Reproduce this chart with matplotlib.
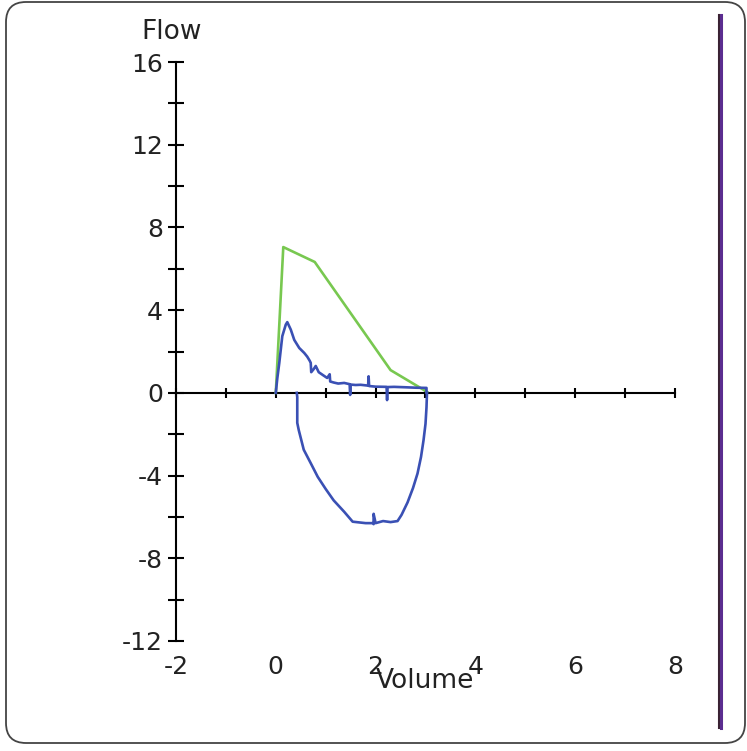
import numpy as np
import matplotlib
matplotlib.use('Agg')
import matplotlib.pyplot as plt
from matplotlib.patches import FancyBboxPatch
from matplotlib.lines import Line2D

plt.rcParams['font.family'] = ['DejaVu Sans']
plt.rcParams['axes.unicode_minus'] = False

# predicted curve (green)
pred_vol = [0.00, 0.15, 0.78, 2.30, 3.03]
pred_flow = [0.00, 7.05, 6.33, 1.10, 0.05]

# measured expiration (blue, positive flow)
exp_vol = [0.00, 0.03, 0.07, 0.13, 0.20, 0.23, 0.30, 0.37, 0.47, 0.57, 0.63, 0.68,
           0.70, 0.71, 0.76, 0.80, 0.86, 0.95, 1.03, 1.08, 1.09, 1.16, 1.25, 1.37,
           1.48, 1.49, 1.50, 1.60, 1.70, 1.85, 1.86, 1.87, 2.00, 2.22, 2.23, 2.24,
           2.37, 2.60, 2.80, 3.00, 3.02, 3.02]
exp_flow = [0.00, 0.70, 1.45, 2.74, 3.30, 3.42, 3.06, 2.56, 2.17, 1.93, 1.75, 1.55,
            1.45, 1.00, 1.15, 1.30, 1.00, 0.85, 0.72, 0.90, 0.55, 0.50, 0.45, 0.48,
            0.42, -0.10, 0.40, 0.38, 0.39, 0.35, 0.80, 0.33, 0.30, 0.29, -0.35, 0.28,
            0.29, 0.27, 0.25, 0.24, 0.24, 0.00]

# measured inspiration (blue, negative flow)
insp_vol = [3.03, 3.02, 3.00, 2.96, 2.91, 2.84, 2.75, 2.64, 2.52, 2.44, 2.30, 2.15,
            2.00, 1.96, 1.96, 1.94, 1.80, 1.54, 1.37, 1.16, 1.00, 0.84, 0.70, 0.56,
            0.46, 0.43, 0.43, 0.42]
insp_flow = [0.00, -0.70, -1.50, -2.30, -3.10, -3.90, -4.60, -5.30, -5.90, -6.20, -6.25, -6.20,
             -6.30, -5.85, -6.35, -6.30, -6.30, -6.23, -5.75, -5.20, -4.65, -4.06, -3.40, -2.75,
             -1.80, -1.45, -0.20, 0.00]

x_major = [-2, 0, 2, 4, 6, 8]
y_major = [-12, -8, -4, 0, 4, 8, 12, 16]

fig = plt.figure(figsize=(7.47, 7.51), dpi=100)
ax = fig.add_axes([176/747, 110/751, 499/747, 579/751])

ax.plot(pred_vol, pred_flow, color='#78c850', lw=1.9, zorder=3)
ax.plot(exp_vol, exp_flow, color='#3a50b4', lw=1.9, zorder=4)
ax.plot(insp_vol, insp_flow, color='#3a50b4', lw=1.9, zorder=4)

ax.set_xlim(-2, 8)
ax.set_ylim(-12, 16)

for s in ['top', 'right']:
    ax.spines[s].set_visible(False)
ax.spines['bottom'].set_position(('data', 0))
ax.spines['bottom'].set_linewidth(1.5)
ax.spines['left'].set_linewidth(1.5)

ax.set_xticks(np.arange(-2, 9, 1))
ax.tick_params(axis='x', direction='inout', length=7.2, width=1.5, labelbottom=False)
ax.set_yticks(y_major)
ax.set_yticks(np.arange(-12, 17, 2), minor=True)
ax.tick_params(axis='y', which='both', direction='inout', length=11.5, width=1.5,
               pad=3.6, labelsize=18, labelcolor='#222222')

# x tick labels sit at the bottom of the plot
sec = ax.secondary_xaxis(0)
sec.set_xticks(x_major)
sec.spines['bottom'].set_visible(False)
sec.tick_params(axis='x', length=0, pad=10, labelsize=18, labelcolor='#222222')

fig.text(172/747, 1 - 32/751, 'Flow', fontsize=19, color='#222222', ha='center', va='center')
fig.text(425/747, 1 - 681/751, 'Volume', fontsize=19, color='#222222', ha='center', va='center')

# rounded frame
frame = FancyBboxPatch((6, 8), 739, 741, boxstyle='round,pad=0,rounding_size=20',
                       transform=None, facecolor='none', edgecolor='#444444', lw=1.3)
fig.patches.append(frame)

# vertical marker bar on the right
fig.lines.append(Line2D([718.5/747, 718.5/747], [23/751, 736/751], color='#3a2233', lw=1.5,
                        transform=fig.transFigure))
fig.lines.append(Line2D([721/747, 721/747], [23/751, 736/751], color='#5b2d90', lw=2.2,
                        transform=fig.transFigure))

fig.savefig('out.png', dpi=100)
